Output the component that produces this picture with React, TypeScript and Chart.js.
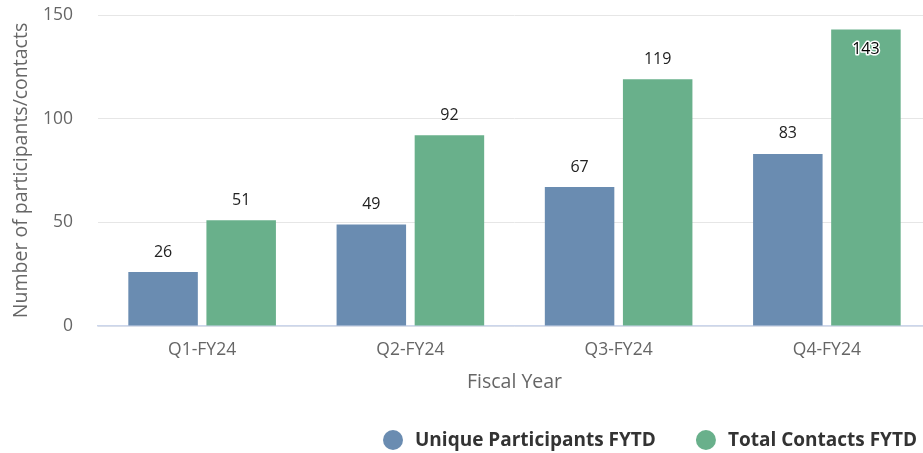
import React, { useEffect, useRef } from "react";
import { Chart, registerables } from "chart.js";

Chart.register(...registerables);

const categories = ["Q1-FY24", "Q2-FY24", "Q3-FY24", "Q4-FY24"];
const uniqueParticipants = [26, 49, 67, 83];
const totalContacts = [51, 92, 119, 143];
const seriesNames = ["Unique Participants FYTD", "Total Contacts FYTD"];
const seriesColors = ["#6a8cb1", "#69b08b"];
const yTicks = [0, 50, 100, 150];

const FONT = "'Open Sans', 'Noto Sans', sans-serif";
const W = 931;
const H = 453;

const labelPlugin = {
  id: "barLabels",
  afterDatasetsDraw(chart: any) {
    const ctx = chart.ctx;
    ctx.save();
    ctx.font = `16px ${FONT}`;
    ctx.textAlign = "center";
    ctx.textBaseline = "middle";
    chart.data.datasets.forEach((ds: any, i: number) => {
      const meta = chart.getDatasetMeta(i);
      meta.data.forEach((bar: any, j: number) => {
        const v = ds.data[j];
        let y = bar.y - 20;
        const inside = y - 8 < chart.chartArea.top;
        if (inside) {
          y = bar.y + 20;
          ctx.lineWidth = 3;
          ctx.strokeStyle = "#ffffff";
          ctx.lineJoin = "round";
          ctx.strokeText(String(v), bar.x, y);
          ctx.fillStyle = "#000000";
        } else {
          ctx.fillStyle = "#222222";
        }
        ctx.fillText(String(v), bar.x, y);
      });
    });
    ctx.restore();
  },
};

const legendPlugin = {
  id: "customLegend",
  afterDraw(chart: any) {
    const ctx = chart.ctx;
    ctx.save();
    ctx.font = `bold 19px ${FONT}`;
    ctx.textBaseline = "middle";
    ctx.textAlign = "left";
    const y = 440;
    const r = 10;
    const gapText = 12;
    const gapItems = 40;
    let x = 383;
    seriesNames.forEach((n, i) => {
      ctx.beginPath();
      ctx.fillStyle = seriesColors[i];
      ctx.arc(x + r, y, r, 0, Math.PI * 2);
      ctx.fill();
      x += 2 * r + gapText;
      ctx.fillStyle = "#333333";
      ctx.fillText(n, x, y + 1);
      x += ctx.measureText(n).width + gapItems;
    });
    ctx.restore();
  },
};

export default function App() {
  const ref = useRef<HTMLCanvasElement>(null);
  useEffect(() => {
    if (!ref.current) return;
    const chart = new Chart(ref.current, {
      type: "bar",
      data: {
        labels: categories,
        datasets: seriesNames.map((name, i) => ({
          label: name,
          data: i === 0 ? uniqueParticipants : totalContacts,
          backgroundColor: seriesColors[i],
          categoryPercentage: 0.75,
          barPercentage: 0.89,
        })),
      },
      options: {
        animation: false,
        responsive: false,
        maintainAspectRatio: false,
        layout: { padding: { top: 15, left: 0, right: 0, bottom: 59 } },
        plugins: {
          tooltip: { enabled: false },
          legend: { display: false },
        },
        scales: {
          x: {
            grid: { display: false, drawTicks: false },
            border: { color: "#ccd6eb", width: 1.5 },
            ticks: {
              color: "#666666",
              padding: 14,
              font: { family: FONT, size: 17.5 },
            },
            title: {
              display: true,
              text: "Fiscal Year",
              color: "#666666",
              font: { family: FONT, size: 19.5 },
              padding: { top: 10, bottom: 0 },
            },
            afterFit: (scale: any) => {
              scale.height = 68;
              scale.paddingLeft = 0;
              scale.paddingRight = 0;
            },
          },
          y: {
            min: 0,
            max: 150,
            afterBuildTicks: (axis: any) => {
              axis.ticks = yTicks.map((v) => ({ value: v }));
            },
            grid: { color: "#e6e6e6", drawTicks: false },
            border: { display: false },
            ticks: {
              color: "#666666",
              padding: 25,
              font: { family: FONT, size: 17.5 },
            },
            title: {
              display: true,
              text: "Number of participants/contacts",
              color: "#666666",
              font: { family: FONT, size: 19.5 },
              padding: { top: 10, bottom: 10 },
            },
            afterFit: (scale: any) => {
              scale.width = 98;
              scale.paddingTop = 0;
              scale.paddingBottom = 0;
            },
          },
        },
      },
      plugins: [labelPlugin, legendPlugin],
    });
    return () => chart.destroy();
  }, []);
  return (
    <div style={{ position: "fixed", left: 0, top: 0, width: W, height: H, background: "#fff" }}>
      <canvas ref={ref} width={W} height={H} style={{ display: "block" }} />
    </div>
  );
}
